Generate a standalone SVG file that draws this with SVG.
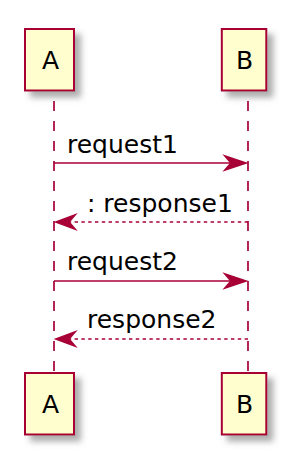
<svg xmlns="http://www.w3.org/2000/svg" width="300" height="474" viewBox="0 0 300 474">
<defs>
<filter id="sh2" x="-30%" y="-30%" width="170%" height="170%">
<feGaussianBlur in="SourceAlpha" stdDeviation="3.2" result="blur"/>
<feOffset in="blur" dx="6" dy="6" result="off"/>
<feFlood flood-color="#777777" flood-opacity="0.6"/>
<feComposite in2="off" operator="in" result="shadow"/>
<feMerge><feMergeNode in="shadow"/><feMergeNode in="SourceGraphic"/></feMerge>
</filter>
</defs>
<style>
.box{fill:#FEFECE;stroke:#A80036;stroke-width:2;filter:url(#sh2)}
.lbl{font-family:"DejaVu Sans",sans-serif;font-size:25px;fill:#000000}
.life{stroke:#A80036;stroke-width:1.7;stroke-dasharray:10,10;fill:none}
.msg{stroke:#A80036;stroke-width:1.7;fill:none}
.ret{stroke:#A80036;stroke-width:1.7;stroke-dasharray:3.4,3.4;fill:none}
.head{fill:#A80036;stroke:#A80036;stroke-width:1.7}
.mt{font-family:"DejaVu Sans",sans-serif;font-size:25px;fill:#000000}
</style>
<g id="lifelines">
<line class="life" x1="54" y1="101" x2="54" y2="372"/>
<line class="life" x1="248" y1="101" x2="248" y2="372"/>
</g>
<g id="A">
<rect class="box" x="25" y="29" width="49" height="61.5"/>
<text class="lbl" x="50.5" y="69" text-anchor="middle">A</text>
</g>
<g id="B">
<rect class="box" x="221.8" y="29" width="44.5" height="61.5"/>
<text class="lbl" x="244.5" y="69" text-anchor="middle">B</text>
</g>
<g id="A-bottom">
<rect class="box" x="25" y="373" width="49" height="61.5"/>
<text class="lbl" x="50.5" y="413" text-anchor="middle">A</text>
</g>
<g id="B-bottom">
<rect class="box" x="221.8" y="373" width="44.5" height="61.5"/>
<text class="lbl" x="244.5" y="413" text-anchor="middle">B</text>
</g>
<g id="connectors">
<line class="msg" x1="54" y1="163" x2="244" y2="163"/>
<polygon class="head" points="246,163 225,156 231,163 225,170"/>
<text class="mt" x="67" y="153">request1</text>
<line class="ret" x1="248" y1="222" x2="58" y2="222"/>
<polygon class="head" points="56,222 75,215 69,222 75,229"/>
<text class="mt" x="87" y="212">: response1</text>
<line class="msg" x1="54" y1="281" x2="244" y2="281"/>
<polygon class="head" points="246,281 225,274 231,281 225,288"/>
<text class="mt" x="67" y="270">request2</text>
<line class="ret" x1="248" y1="339" x2="58" y2="339"/>
<polygon class="head" points="56,339 75,332 69,339 75,346"/>
<text class="mt" x="87" y="328">response2</text>
</g>
</svg>
